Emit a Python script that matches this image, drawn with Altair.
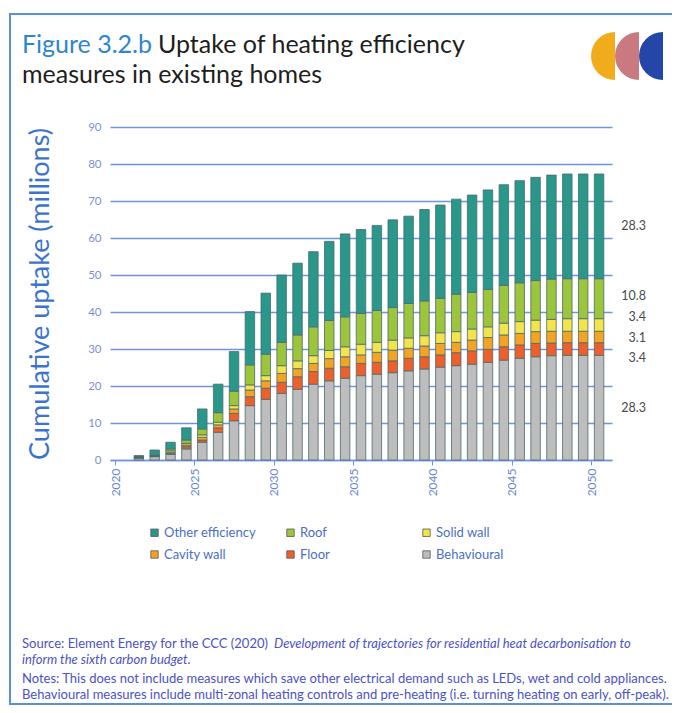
import altair as alt
import pandas as pd

# ---------------- data ----------------
years = list(range(2021, 2051))
categories = ["Other efficiency", "Roof", "Solid wall", "Cavity wall", "Floor", "Behavioural"]
colors = ["#2a978b", "#9cc53c", "#f2e44a", "#f4a323", "#ef5f2a", "#bebdbd"]

behavioural = [0.5, 0.9, 1.5, 3.0, 4.8, 7.5, 10.6, 14.7, 16.4, 18.0, 19.1, 20.5, 21.4, 22.1, 22.8,
               23.2, 23.6, 24.1, 24.6, 25.1, 25.5, 25.9, 26.4, 27.0, 27.5, 27.9, 28.2, 28.3, 28.3, 28.3]
floor = [0.1, 0.1, 0.3, 0.6, 0.6, 1.2, 2.0, 2.4, 3.0, 3.0, 3.4, 3.4, 3.4, 3.1, 3.3,
         3.2, 3.2, 3.4, 3.3, 3.3, 3.5, 3.6, 3.5, 3.6, 3.6, 3.6, 3.4, 3.4, 3.4, 3.4]
cavity_wall = [0.1, 0.1, 0.3, 0.45, 0.7, 0.8, 1.2, 1.8, 2.0, 2.4, 2.2, 2.2, 2.6, 2.7, 2.3,
               2.7, 2.9, 2.7, 2.9, 3.1, 2.8, 2.9, 3.2, 3.2, 3.1, 3.2, 3.2, 3.1, 3.1, 3.1]
solid_wall = [0.1, 0.1, 0.4, 0.45, 0.7, 0.7, 0.9, 1.4, 1.4, 2.1, 2.1, 2.1, 2.2, 2.7, 2.9,
              2.7, 2.7, 2.8, 2.8, 2.9, 2.9, 3.0, 2.9, 3.2, 3.2, 3.1, 3.2, 3.4, 3.4, 3.4]
roof = [0.1, 0.15, 0.5, 0.9, 1.6, 2.6, 3.9, 5.4, 5.8, 6.3, 7.0, 7.8, 8.1, 8.1, 8.3,
        8.6, 8.8, 9.3, 9.4, 9.3, 10.1, 9.9, 10.1, 10.2, 10.5, 10.7, 10.9, 10.8, 10.8, 10.8]
other_efficiency = [0.3, 1.35, 1.8, 3.3, 5.4, 7.7, 10.7, 14.4, 16.5, 18.2, 19.4, 20.3, 21.4, 22.4, 22.7,
                    23.0, 23.7, 23.6, 24.7, 25.2, 25.7, 26.3, 26.9, 27.2, 27.6, 27.9, 28.1, 28.3, 28.3, 28.3]

x_ticks = [2020, 2025, 2030, 2035, 2040, 2045, 2050]
y_ticks = [0, 10, 20, 30, 40, 50, 60, 70, 80, 90]

title_fig = "Figure 3.2.b"
title_l1 = "Uptake of heating efficiency"
title_l2 = "measures in existing homes"
source_a = "Source: Element Energy for the CCC (2020)"
source_b = "Development of trajectories for residential heat decarbonisation to"
source_c = "inform the sixth carbon budget."
notes_1 = "Notes: This does not include measures which save other electrical demand such as LEDs, wet and cold appliances."
notes_2 = "Behavioural measures include multi-zonal heating controls and pre-heating (i.e. turning heating on early, off-peak)."

# ---------------- tables ----------------
series = {
    "Behavioural": behavioural,
    "Floor": floor,
    "Cavity wall": cavity_wall,
    "Solid wall": solid_wall,
    "Roof": roof,
    "Other efficiency": other_efficiency,
}
stack_order = ["Behavioural", "Floor", "Cavity wall", "Solid wall", "Roof", "Other efficiency"]
rows = []
for name in stack_order:
    for yr, v in zip(years, series[name]):
        rows.append({"year": yr, "category": name, "value": v, "rank": stack_order.index(name)})
df = pd.DataFrame(rows)

# end-of-series labels: segment midpoints of the last bar, spread so they do not collide
mids = []
base = 0.0
for name in stack_order:
    v = series[name][-1]
    mids.append(base + v / 2)
    base += v
pos = list(mids)
GAP = 5.6
for _ in range(500):
    moved = False
    for i in range(len(pos) - 1):
        d = pos[i + 1] - pos[i]
        if d < GAP - 1e-6:
            s = (GAP - d) / 2
            pos[i] -= s
            pos[i + 1] += s
            moved = True
    if not moved:
        break
df_lab = pd.DataFrame({
    "category": stack_order,
    "mid": pos,
    "label": [f"{series[n][-1]:.1f}" for n in stack_order],
})

one = pd.DataFrame({"k": [0]})

FONT = "Lato"
BLUE_GRID = "#6f95dc"
W, H = 502, 333

bars = alt.Chart(df).transform_calculate(xc="datum.year + 0.5").mark_bar(
    width=9.5, stroke="#4a6a6e", strokeWidth=0.8
).encode(
    x=alt.X("xc:Q", title=None,
            scale=alt.Scale(domain=[2020, 2051], nice=False, zero=False),
            axis=alt.Axis(values=x_ticks, format="d", labelAngle=270, grid=False,
                          domain=True, domainColor=BLUE_GRID, domainWidth=1.3,
                          ticks=True, tickColor=BLUE_GRID, tickSize=5,
                          labelColor="#6b86d2", labelFont=FONT, labelFontSize=12,
                          labelPadding=3)),
    y=alt.Y("value:Q", stack="zero", title="Cumulative uptake (millions)",
            scale=alt.Scale(domain=[0, 90], nice=False)),
    color=alt.Color("category:N", scale=alt.Scale(domain=categories, range=colors),
                    legend=alt.Legend(orient="none", legendX=38, legendY=399, direction="horizontal",
                                      columns=3, gridAlign="all", columnPadding=28, rowPadding=8,
                                      title=None, symbolType="square", symbolSize=55,
                                      symbolStrokeColor="#555555", symbolStrokeWidth=0.8,
                                      labelColor="#4c6dcc", labelFont=FONT, labelFontSize=13,
                                      labelOffset=3)),
    order=alt.Order("rank:Q", sort="ascending"),
)

labels = alt.Chart(df_lab).mark_text(
    align="right", baseline="middle", font=FONT, fontSize=12.5, color="#4a4a4a"
).encode(
    x=alt.value(536),
    y=alt.Y("mid:Q", title="Cumulative uptake (millions)"),
    text="label:N",
)

def txt(s, x, y, size, color, style="normal", weight="normal"):
    return alt.Chart(one).mark_text(
        text=s, align="left", baseline="alphabetic", font=FONT, fontSize=size,
        color=color, fontStyle=style, fontWeight=weight
    ).encode(x=alt.value(x), y=alt.value(y))

def half(x, color):
    return alt.Chart(one).mark_arc(
        color=color, theta=3.14159265, theta2=6.2831853, radius=24
    ).encode(x=alt.value(x), y=alt.value(-71))

border = alt.Chart(one).mark_rect(
    fillOpacity=0, stroke="#5b8fd8", strokeWidth=2
).encode(x=alt.value(-100), x2=alt.value(564), y=alt.value(-113), y2=alt.value(577))

NOTE_C = "#4b52c4"
NS = 13
TS = 25
layers = [
    border,
    bars,
    labels,
    txt(title_fig, -88, -74, TS, "#2f86d0"),
    txt(title_l1, 48, -74, TS, "#1e1e1e"),
    txt(title_l2, -88, -44, TS, "#1e1e1e"),
    half(505, "#f0ac1a"),
    half(529, "#c97a80"),
    half(553, "#2446a8"),
    txt(source_a, -88, 521, NS, NOTE_C),
    txt(source_b, 164, 521, NS, NOTE_C, style="italic"),
    txt(source_c, -88, 537, NS, NOTE_C, style="italic"),
    txt(notes_1, -88, 556, NS, NOTE_C),
    txt(notes_2, -88, 572, NS, NOTE_C),
]

chart = alt.layer(*layers).properties(
    width=W, height=H,
    autosize=alt.AutoSizeParams(type="none"),
    padding={"left": 102, "top": 119, "right": 60, "bottom": 245},
    background="white",
).configure_view(strokeWidth=0).configure_axisY(
    values=y_ticks, domain=False, ticks=False, grid=True, gridColor=BLUE_GRID, gridWidth=1.3,
    labelColor="#7d8fcf", labelFont=FONT, labelFontSize=11.5, labelPadding=9,
    titleColor="#3b74cc", titleFont=FONT, titleFontSize=27, titleFontWeight="normal",
    titleAngle=270, titleX=-70, titleY=H / 2, titleAlign="center", titleBaseline="middle",
)

chart.save("out.html", embed_options={"renderer": "svg", "actions": False})
